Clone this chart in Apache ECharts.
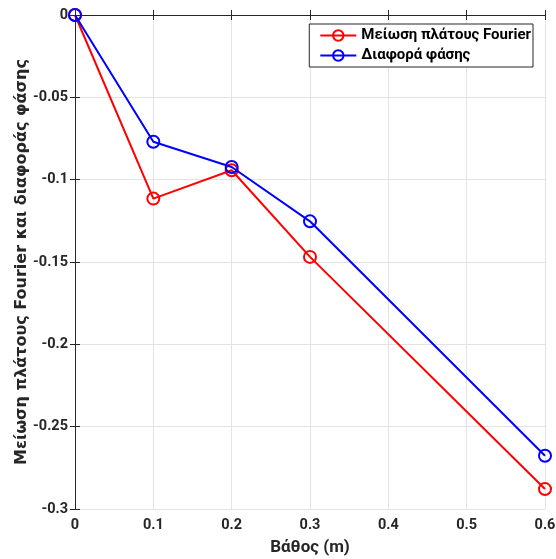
<!DOCTYPE html>
<html><head><meta charset="utf-8">
<script src="https://cdn.jsdelivr.net/npm/echarts@6/dist/echarts.min.js"></script>
<style>html,body{margin:0;padding:0;background:#fff}#c{width:556px;height:559px}</style>
</head><body><div id="c"></div>
<script>
const depth = [0, 0.1, 0.2, 0.3, 0.6];
const fourierReduction = [0, -0.1115, -0.0943, -0.1469, -0.2879];
const phaseDifference = [0, -0.0770, -0.0923, -0.1253, -0.2677];
const seriesNames = ['Μείωση πλάτους Fourier', 'Διαφορά φάσης'];
const xTitle = 'Βάθος (m)';
const yTitle = 'Μείωση πλάτους Fourier και διαφοράς φάσης';

const fmt = v => String(Number(v.toFixed(2)));
const font = 'Roboto, "Liberation Sans", Arial, sans-serif';
const wideFont = '"DejaVu Sans", Roboto, sans-serif';
const axisCol = '#262626';
const chart = echarts.init(document.getElementById('c'));
function pairs(xs, ys){ return xs.map((x,i)=>[x, ys[i]]); }
const common = {
  axisLine:{show:true, lineStyle:{color:axisCol, width:1}},
  axisTick:{show:true, inside:true, length:5, lineStyle:{color:axisCol}},
};
chart.setOption({
  animation:false,
  backgroundColor:'#fff',
  grid:{left:75, right:11, top:15, bottom:50, show:false, containLabel:false, outerBoundsMode:'none'},
  legend:{
    orient:'vertical', right:23, top:24,
    backgroundColor:'#fff', borderColor:'#262626', borderWidth:1,
    padding:[4,2,4,10], itemGap:5, itemWidth:36, itemHeight:13,
    textStyle:{fontFamily:font, fontWeight:'bold', fontSize:15, color:'#000'},
    data:seriesNames
  },
  xAxis:[{
    type:'value', min:0, max:0.6, interval:0.1,
    name:xTitle, nameLocation:'middle', nameGap:30, nameMoveOverlap:false,
    nameTextStyle:{fontFamily:font, fontWeight:'bold', fontSize:17, color:axisCol},
    axisLabel:{formatter:fmt, fontFamily:font, fontWeight:'bold', fontSize:14.5, color:axisCol, margin:9},
    splitLine:{show:true, lineStyle:{color:'#e3e3e3'}},
    ...common
  },{
    type:'value', position:'top', min:0, max:0.6, interval:0.1,
    axisLabel:{show:false}, splitLine:{show:false}, ...common
  }],
  yAxis:[{
    type:'value', min:-0.3, max:0, interval:0.05,
    name:yTitle, nameLocation:'middle', nameGap:45, nameMoveOverlap:false,
    nameTextStyle:{fontFamily:wideFont, fontWeight:'bold', fontSize:16, color:axisCol},
    axisLabel:{formatter:fmt, fontFamily:font, fontWeight:'bold', fontSize:14.5, color:axisCol, margin:7},
    splitLine:{show:true, lineStyle:{color:'#e3e3e3'}},
    ...common
  },{
    type:'value', position:'right', min:-0.3, max:0, interval:0.05,
    axisLabel:{show:false}, splitLine:{show:false}, ...common
  }],
  series:[{
    name:seriesNames[0], type:'line', data:pairs(depth, fourierReduction),
    symbol:'circle', symbolSize:12,
    lineStyle:{color:'#ff0000', width:2},
    itemStyle:{color:'rgba(255,255,255,0)', borderColor:'#ff0000', borderWidth:2},
    z:2
  },{
    name:seriesNames[1], type:'line', data:pairs(depth, phaseDifference),
    symbol:'circle', symbolSize:12,
    lineStyle:{color:'#0000ff', width:2},
    itemStyle:{color:'rgba(255,255,255,0)', borderColor:'#0000ff', borderWidth:2},
    z:3
  }]
});
</script></body></html>
